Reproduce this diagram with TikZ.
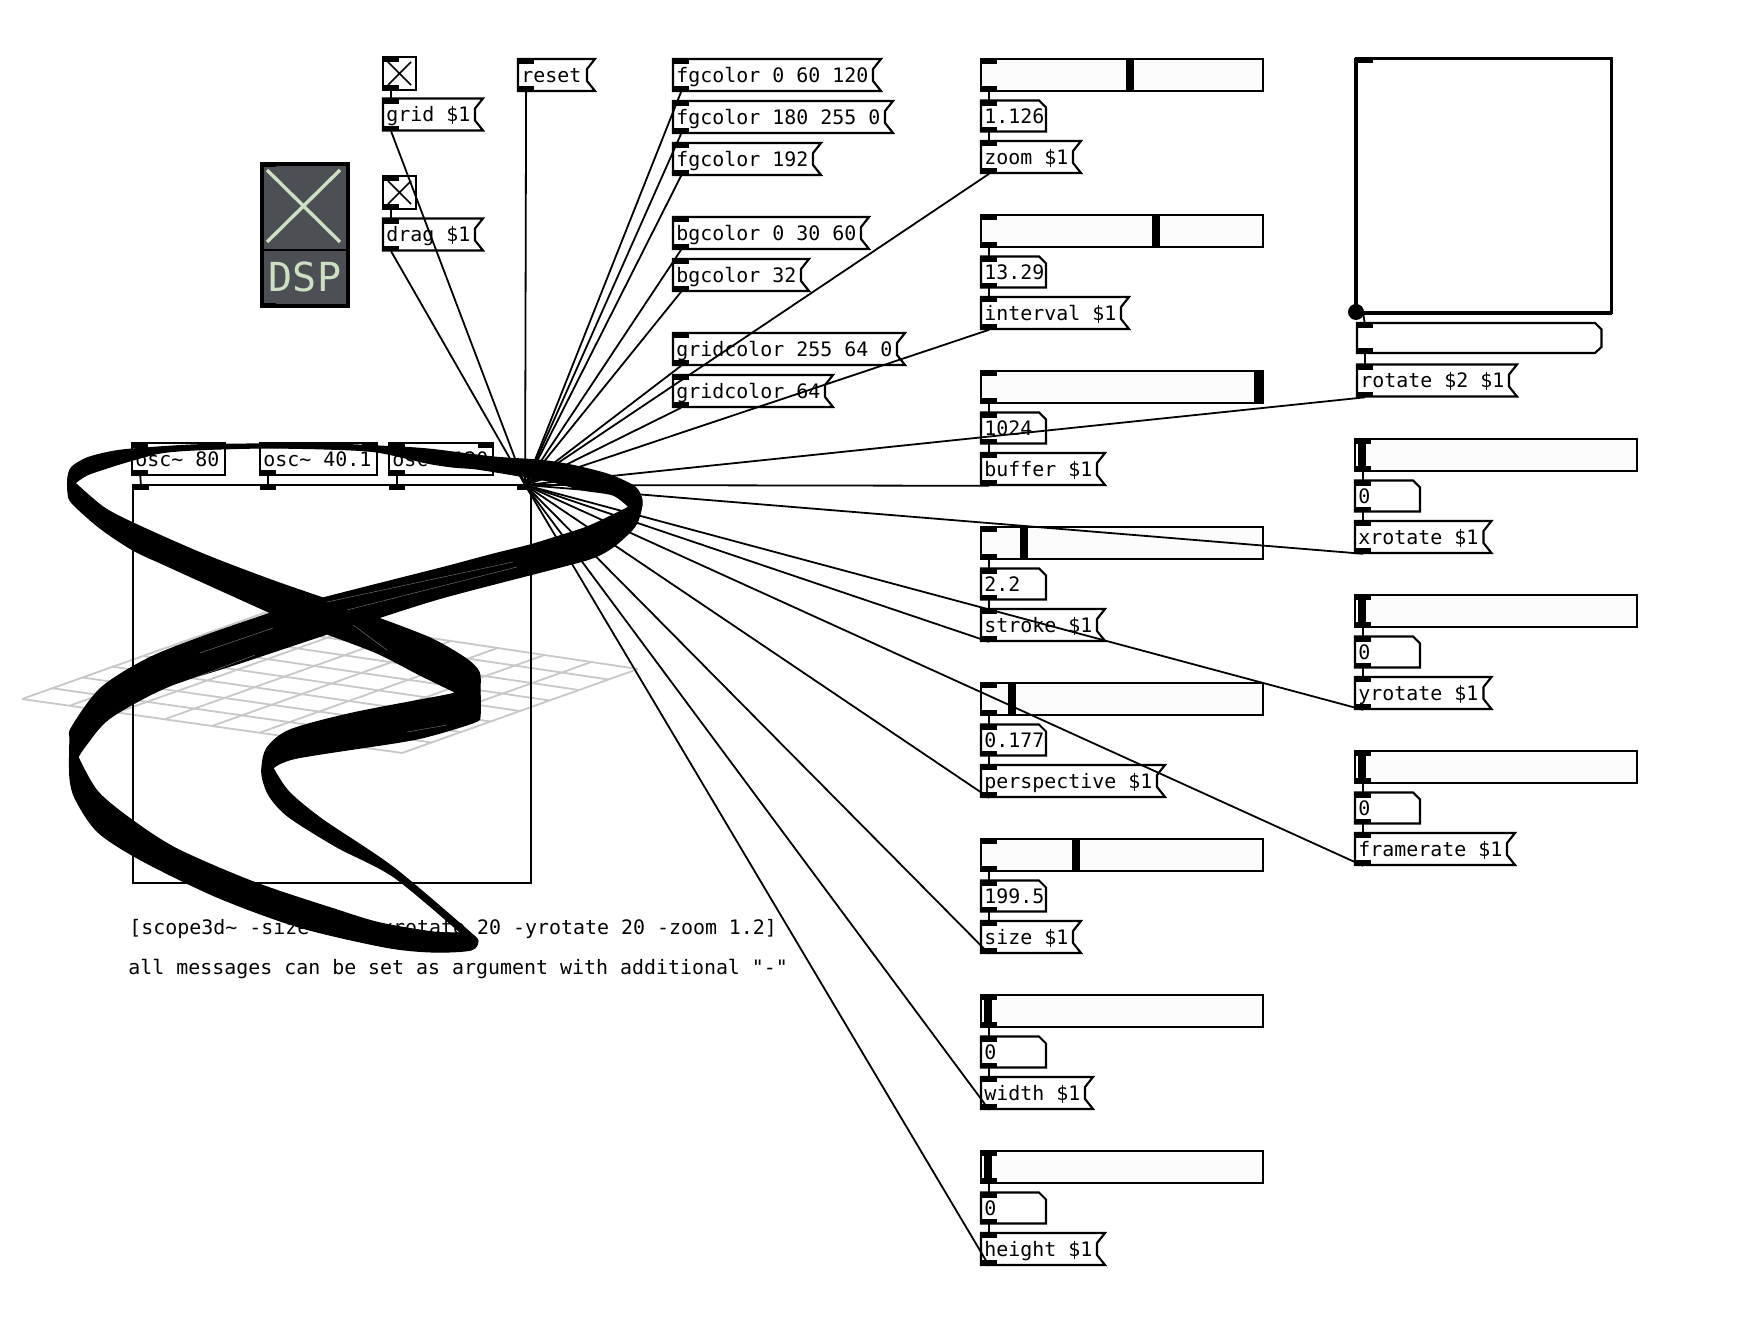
\documentclass[tikz,border=0pt]{standalone}
\usepackage{fontspec}
\setmonofont{DejaVu Sans Mono}
\definecolor{sliderbg}{HTML}{FCFCFC}
\definecolor{dspbg}{HTML}{4C5054}
\definecolor{dspfg}{HTML}{CDE0C4}
\definecolor{gridgrey}{HTML}{C8C8C8}
\tikzset{
  box/.style={draw=black,line width=1.05pt,line join=miter},
  wire/.style={draw=black,line width=0.9pt},
  iolet/.style={fill=black,draw=none,inner sep=0pt,minimum width=7.7pt,minimum height=2.5pt,anchor=north west},
  txt/.style={inner sep=0pt,anchor=base west,font=\ttfamily\fontsize{9.96}{12}\selectfont},
  handle/.style={fill=black,draw=none},
  gridline/.style={draw=gridgrey,line width=0.9pt},
  sliver/.style={draw=white,line width=0.2pt,opacity=0.5},
  sm/.style={smooth,tension=0.5}
}
\newcommand{\iolsp}[4]{%
  \node[iolet] (#1i) at (#2,#3) {};
  \node[iolet] (#1o) at (#2,#4-5) {};
}
\newcommand{\msgbox}[5]{% name, x, y, right x, text
  \draw[box,fill=white] (#2,#3) -- (#4,#3) -- (#4-8,#3+10) -- (#4-8,#3+22) -- (#4,#3+32) -- (#2,#3+32) -- cycle;
  \iolsp{#1}{#2}{#3}{#3+32}
  \node[txt] (#1t) at (#2+3,#3+23.3) {#5};
}
\newcommand{\numbox}[5]{% name, x, y, right x, text
  \draw[box,fill=white] (#2,#3) -- (#4-7,#3) -- (#4,#3+7) -- (#4,#3+31) -- (#2,#3+31) -- cycle;
  \iolsp{#1}{#2}{#3}{#3+31}
  \node[txt] (#1t) at (#2+3,#3+23.3) {#5};
}
\newcommand{\slider}[6]{% name, x, y, right x, handle x0, handle x1
  \draw[box,fill=sliderbg] (#2,#3) rectangle (#4,#3+32);
  \fill[handle] (#5,#3) rectangle (#6,#3+32);
  \iolsp{#1}{#2}{#3}{#3+32}
}
\newcommand{\togglebox}[3]{%
  \draw[box,fill=sliderbg] (#2,#3) rectangle (#2+33,#3+33);
  \draw[line width=0.8pt] (#2+5,#3+5) -- (#2+28,#3+28) (#2+28,#3+5) -- (#2+5,#3+28);
  \iolsp{#1}{#2}{#3}{#3+33}
}
\newcommand{\obox}[5]{% name, x, y, right x, text
  \draw[box,fill=white] (#2,#3) rectangle (#4,#3+32);
  \iolsp{#1}{#2}{#3}{#3+32}
  \node[iolet] (#1r) at (#4-15,#3) {};
  \node[txt] (#1t) at (#2+3,#3+23.3) {#5};
}
\newcommand{\trio}[9]{% name, x, sy, slider right, h0, h1, number, msg right, msg text
  \slider{#1s}{#2}{#3}{#4}{#5}{#6}
  \numbox{#1n}{#2}{#3+41.5}{#2+65}{#7}
  \msgbox{#1m}{#2}{#3+82}{#8}{#9}
}
\begin{document}
\begin{tikzpicture}[x=0.5pt,y=-0.5pt]
\useasboundingbox (0,0) rectangle (1738,1320);
\fill[white] (0,0) rectangle (1738,1320);

% scope grid
\foreach \i in {0,...,8}{
  \draw[gridline] ({22+\i/8*(402-22)},{699+\i/8*(753-699)}) -- ({264+\i/8*(638-264)},{613+\i/8*(669-613)});
  \draw[gridline] ({22+\i/8*(264-22)},{699+\i/8*(613-699)}) -- ({402+\i/8*(638-402)},{753+\i/8*(669-753)});
}

% scope box and oscillators
\draw[box] (133,485) rectangle (531,883);
\node[iolet] (sc1) at (133,485) {};
\node[iolet] (sc2) at (260,485) {};
\node[iolet] (sc3) at (389,485) {};
\node[iolet] (sc4) at (517,485) {};
\obox{oa}{132}{443}{225}{osc\textasciitilde{} 80}
\obox{ob}{260}{443}{377}{osc\textasciitilde{} 40.1}
\obox{oc}{389}{443}{493}{osc\textasciitilde{} 120}

% dsp toggle
\draw[fill=dspbg,draw=black,line width=1.8pt] (262,164) rectangle (348,306);
\draw[black,line width=1.2pt] (262,250) -- (348,250);
\draw[dspfg,line width=1.7pt] (267,170) -- (340,242) (340,170) -- (267,242);
\node[inner sep=0pt,anchor=base,text=dspfg,font=\ttfamily\fontsize{20}{24}\selectfont] (dsp) at (305,292) {DSP};
\node[iolet] (dspi) at (260,162) {};
\node[iolet] (dspo) at (260,303) {};

% left column
\togglebox{tg}{383}{57}
\msgbox{grid}{383}{98.5}{483}{grid \$1}
\togglebox{td}{383}{176}
\msgbox{drag}{383}{218.5}{483}{drag \$1}
\msgbox{reset}{518}{59}{595}{reset}

% colour messages
\msgbox{fa}{673}{59}{881}{fgcolor 0 60 120}
\msgbox{fb}{673}{101}{893}{fgcolor 180 255 0}
\msgbox{fc}{673}{143}{821}{fgcolor 192}
\msgbox{ba}{673}{217}{869}{bgcolor 0 30 60}
\msgbox{bb}{673}{259}{809}{bgcolor 32}
\msgbox{ga}{673}{333}{905}{gridcolor 255 64 0}
\msgbox{gb}{673}{375}{833}{gridcolor 64}

% third column
\trio{zo}{981}{59}{1263}{1126}{1134}{1.126}{1081}{zoom \$1}
\trio{iv}{981}{215}{1263}{1152}{1160}{13.29}{1129}{interval \$1}
\trio{bu}{981}{371}{1263}{1254}{1263}{1024}{1105}{buffer \$1}
\trio{st}{981}{527}{1263}{1020}{1028}{2.2}{1105}{stroke \$1}
\trio{pe}{981}{683}{1263}{1008}{1016}{0.177}{1165}{perspective \$1}
\trio{si}{981}{839}{1263}{1072}{1080}{199.5}{1081}{size \$1}
\trio{wi}{981}{995}{1263}{984}{992}{0}{1093}{width \$1}
\trio{he}{981}{1151}{1263}{984}{992}{0}{1105}{height \$1}

% fourth column
\draw[box,fill=white,line width=1.2pt] (1356,58.5) rectangle (1611.5,313);
\draw[black,line width=1.9pt] (1356,58.5) -- (1356,313) -- (1611.5,313);
\node[iolet,minimum width=9pt] (cvi) at (1355,58) {};
\node[circle,fill=black,inner sep=0pt,minimum size=8pt] (cvo) at (1356,312) {};
\draw[box,fill=white] (1357,323) -- (1595,323) -- (1601.5,329.5) -- (1601.5,347) -- (1595,353) -- (1357,353) -- cycle;
\iolsp{sy}{1357}{323}{353}
\msgbox{ro}{1357}{364.5}{1517}{rotate \$2 \$1}
\trio{xr}{1355}{439}{1637}{1357.5}{1366}{0}{1491.5}{xrotate \$1}
\trio{yr}{1355}{595}{1637}{1357.5}{1366}{0}{1491.5}{yrotate \$1}
\trio{fr}{1355}{751}{1637}{1357.5}{1366}{0}{1515}{framerate \$1}

% comments
\node[txt] (c1) at (129,934) {[scope3d\textasciitilde{} -size 200 -xrotate 20 -yrotate 20 -zoom 1.2]};
\node[txt] (c2) at (128,974) {all messages can be set as argument with additional "-"};

% short connections
\foreach \a/\b in {tgo/gridi,tdo/dragi,oao/sc1,obo/sc2,oco/sc3,
  zoso/zoni,zono/zomi,ivso/ivni,ivno/ivmi,buso/buni,buno/bumi,stso/stni,stno/stmi,
  peso/peni,peno/pemi,siso/sini,sino/simi,wiso/wini,wino/wimi,heso/heni,heno/hemi,
  syo/roi,xrso/xrni,xrno/xrmi,yrso/yrni,yrno/yrmi,frso/frni,frno/frmi}{
  \draw[wire] (\a.center) -- (\b.center);
}
\draw[wire] (cvo.center) ++(7,0) -- (syi.center);

% connections into the scope
\foreach \a in {grido,drago,reseto,fao,fbo,fco,bao,bbo,gao,gbo,
  zomo,ivmo,bumo,stmo,pemo,simo,wimo,hemo,roo,xrmo,yrmo,frmo}{
  \draw[wire] (\a.south) -- (sc4.north);
}

% scope trace
\path[fill=black,draw=black,line width=0.6pt,even odd rule,line join=round]
 plot[sm] coordinates {(271,613) (240,599) (165,565) (133,550) (100,528) (72,503) (68,492) (68,477) (72,467)
   (87,458) (110,452) (133,449) (193,445) (260,444) (327,444) (377,446) (427,449) (493,457) (537,460)
   (560,463) (580,467) (610,475) (635,487) (642,500) (641,510) (637,523) (630,532) (613,547) (595,557)
   (568,565) (445,597) (378,618)}
 -- plot[sm] coordinates {(378,618) (430,638) (465,658) (479,672) (480,690) (480,715) (475,722) (433,735)
   (400,742) (297,758) (273,768)}
 -- plot[sm] coordinates {(273,768) (289,792) (323,820) (394,868) (473,935)}
 -- plot[sm] coordinates {(473,935) (478,941) (471,950) (433,952) (385,947) (299,927) (217,897) (141,860)
   (98,832) (76,800) (70,778) (70,740) (72,727) (101,688) (149,658) (207,635) (271,613)} -- cycle
 plot[sm] coordinates {(75,483) (87,475) (110,467) (133,460) (160,453) (193,450) (260,448) (327,449)
   (377,452) (427,463) (453,467) (477,469) (520,476) (553,482) (583,490) (613,495) (629,507)}
 -- plot[sm] coordinates {(629,507) (617,513) (587,527) (553,538) (530,545) (490,555) (445,567) (366,587) (323,598)}
 -- plot[sm] coordinates {(323,598) (271,580) (203,554) (133,523) (103,507) (75,483)} -- cycle
 plot[sm] coordinates {(327,634) (243,662) (167,687) (110,718) (86,745) (78,757)}
 -- plot[sm] coordinates {(78,757) (98,792) (136,823) (179,850) (256,883) (337,910) (380,923) (433,932) (461,933)}
 -- plot[sm] coordinates {(461,933) (394,877) (337,847) (289,817) (270,797) (263,780) (262,767) (267,748)
   (290,730) (353,713) (447,695) (455,692)}
 -- plot[sm] coordinates {(455,692) (420,675) (377,653) (327,634)} -- cycle;
\draw[sliver] (200,653) -- (273,628) (170,687) -- (255,655) (353,625) -- (387,650)
  (407,732) -- (447,725) (327,602) -- (513,562) (347,610) -- (517,567);
\end{tikzpicture}
\end{document}
